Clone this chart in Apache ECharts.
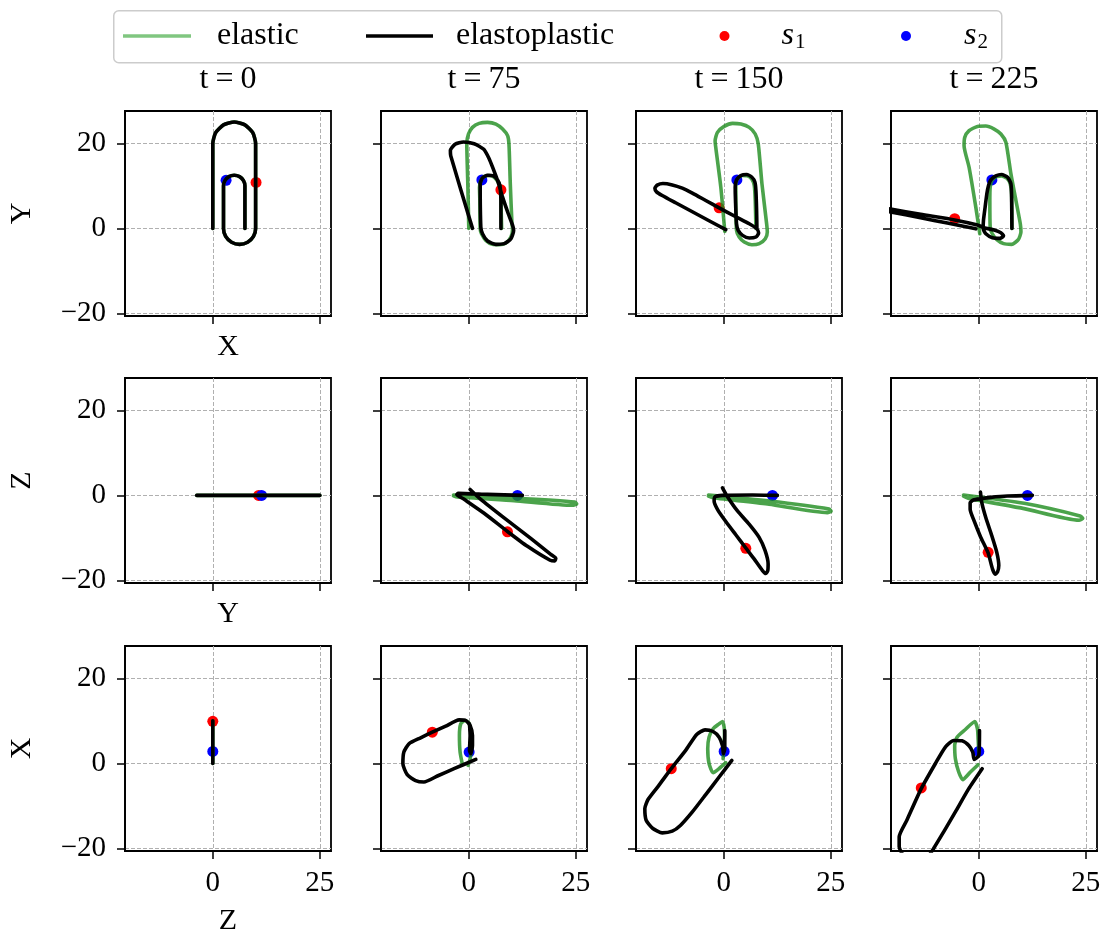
<!DOCTYPE html>
<html><head><meta charset="utf-8">
<script src="https://cdn.jsdelivr.net/npm/echarts@6/dist/echarts.min.js"></script>
<style>html,body{margin:0;padding:0;background:#fff}#c{width:1106px;height:938px}</style>
</head><body><div id="c"></div>
<script>
// ---------------- DATA ----------------
const times = ['0', '75', '150', '225'];
const rowAxes = [['X', 'Y'], ['Y', 'Z'], ['Z', 'X']];   // [horizontal, vertical] per row
const xTicks = [0, 25];
const yTicks = [-20, 0, 20];

// XY projection
const xy_t0 = [[0,0],[0,20],[0.67,22.5],[2.5,24.33],[5,25],[7.5,24.33],[9.33,22.5],[10,20],[10,0],[9.5,-1.88],[8.13,-3.25],[6.25,-3.75],[4.38,-3.25],[3,-1.88],[2.5,0],[2.5,10],[2.83,11.25],[3.75,12.17],[5,12.5],[6.25,12.17],[7.17,11.25],[7.5,10],[7.5,0]];
const xy_t75_elastic = [[0,0],[-0.23,10.47],[-0.47,20],[-0.08,22.19],[0.86,23.75],[2.42,24.69],[4.38,24.92],[6.33,24.53],[7.89,23.36],[9.06,21.8],[9.38,19.84],[9.69,10.47],[10.08,1.09],[10.23,-0.08],[9.84,-2.03],[8.67,-3.44],[7.11,-3.83],[5.55,-3.75],[3.98,-2.81],[2.97,-1.25],[2.66,-0.08],[2.58,6.56],[2.5,9.69],[2.81,11.25],[3.59,12.19],[4.77,12.42],[5.94,12.03],[6.88,10.86],[7.34,9.69],[7.5,6.56],[7.66,0]];
const xy_t75_plastic = [[0.86,0],[-4.22,17.1],[-4.3,18.3],[-3.2,19.8],[-1.25,20.3],[1.25,19.9],[3.5,18.6],[4.7,16.5],[5.55,14.4],[6.72,11.25],[7.89,7.34],[9.22,3.44],[10.23,0.7],[10.47,-0.47],[9.84,-2.42],[8.28,-3.59],[6.33,-3.75],[4.38,-2.97],[3.2,-1.25],[2.81,0.31],[2.66,10.47],[3.2,11.88],[4.38,12.5],[5.78,12.34],[6.72,11.4],[7.27,10.08],[7.5,6.56],[7.5,0]];
const xy_t150_elastic = [[0.23,-0.7],[-0.7,9.69],[-1.88,19.06],[-2.03,20.63],[-1.48,22.58],[0.08,23.98],[2.03,24.69],[3.98,24.53],[5.94,23.75],[7.34,22.19],[8.05,19.84],[8.91,10.47],[10.0,1.09],[10.16,-0.86],[9.69,-2.42],[8.28,-3.59],[6.56,-3.83],[4.77,-3.2],[3.59,-2.03],[2.97,-0.47],[2.81,6.56],[2.81,10.47],[3.2,11.64],[4.22,12.42],[5.55,12.34],[6.56,11.56],[7.11,10.08],[7.34,6.56],[7.5,0]];
const xy_t150_plastic = [[0.47,-0.31],[-3.44,1.8],[-7.34,3.91],[-11.25,6.02],[-14.38,7.73],[-15.7,8.59],[-16.09,9.45],[-15.55,10.16],[-14.22,10.55],[-12.03,10.23],[-9.69,9.45],[-7.34,8.28],[-4.22,6.56],[-1.09,4.84],[2.81,2.73],[5.94,1.09],[7.73,-0.08],[8.13,-1.09],[7.5,-2.03],[5.94,-2.27],[4.38,-1.64],[3.36,-0.47],[2.97,1.09],[2.73,6.56],[2.66,9.69],[2.97,11.41],[3.98,12.42],[5.31,12.66],[6.56,12.03],[7.27,10.86],[7.5,8.91],[7.66,4.22],[7.73,0.16]];
const xy_t225_elastic = [[0.23,-1.25],[-0.7,5.0],[-2.27,14.38],[-3.44,19.45],[-3.28,21.41],[-2.27,22.97],[-0.31,23.98],[1.64,24.06],[3.59,23.36],[5.16,22.19],[6.33,20.23],[7.5,12.81],[8.67,6.56],[9.69,1.09],[9.84,-0.86],[9.22,-2.66],[7.66,-3.75],[5.78,-3.59],[4.22,-2.66],[3.05,-1.09],[2.66,0.31],[2.58,6.56],[2.66,9.69],[3.05,11.25],[4.14,12.19],[5.31,12.34],[6.56,11.8],[7.34,10.47],[7.66,8.13],[7.73,0]];
const xy_t225_plastic = [[-0.7,-0.1],[-7.34,1.25],[-13.6,2.5],[-20.6,3.85],[-24.5,4.5],[-25.5,4.85],[-24.5,5.2],[-20.6,4.55],[-13.6,3.3],[-5.63,1.98],[-0.31,0.78],[1.25,0.16],[3.59,-0.39],[5.16,-1.02],[5.78,-1.72],[5.0,-2.34],[3.2,-2.19],[1.64,-1.25],[1.02,-0.08],[1.09,1.88],[1.48,5.0],[1.88,8.13],[2.27,10.08],[2.81,11.41],[3.98,12.34],[5.31,12.66],[6.72,12.03],[7.5,10.47],[7.66,7.34],[7.73,0]];

// YZ projection
const yz_t0 = [[-3.75,0],[25,0]];
const yz_t75_elastic = [[-3.58,0.08],[10.58,-0.62],[24.75,-1.56],[25.2,-2.02],[24.2,-2.33],[10.58,-1.25],[-2.65,-0.39],[-3.58,-0.08]];
const yz_t75_plastic = [[0.31,1.4],[2.8,-0.93],[8.25,-5.29],[14.47,-10.12],[19.14,-13.85],[20.31,-14.79],[20.08,-15.41],[18.99,-15.25],[13.7,-11.98],[9.03,-8.48],[3.58,-4.2],[-1.09,-0.93],[-2.8,0.23],[-2.49,0.47],[4.36,0.23],[12.53,0]];
const yz_t150_elastic = [[-3.58,0.08],[10.58,-1.32],[24.59,-3.19],[25.06,-3.74],[24.2,-4.05],[10.58,-2.1],[-2.49,-0.54],[-3.58,-0.16]];
const yz_t150_plastic = [[-0.31,1.79],[0.86,-0.31],[3.19,-3.66],[5.91,-6.77],[8.25,-9.88],[9.65,-13.0],[10.35,-16.11],[10.27,-17.67],[9.81,-18.37],[9.03,-17.67],[7.08,-14.94],[5.14,-12.37],[2.8,-9.26],[0.47,-6.15],[-1.48,-3.27],[-2.26,-1.32],[-2.02,-0.31],[-0.31,0],[6.69,0.08],[12.53,0]];
const yz_t225_elastic = [[-3.58,0.08],[10.58,-1.87],[23.66,-4.82],[24.28,-5.37],[23.42,-5.84],[10.58,-3.11],[-2.26,-0.7],[-3.58,-0.16]];
const yz_t225_plastic = [[0.39,0.78],[0.7,-1.71],[1.63,-5.21],[3.04,-9.49],[4.2,-13.39],[4.67,-16.5],[4.36,-18.05],[3.81,-18.52],[3.19,-17.28],[2.18,-13.54],[0.47,-9.88],[-1.09,-5.99],[-2.02,-3.27],[-2.02,-1.71],[-1.25,-1.09],[0.47,-0.78],[2.8,-0.47],[6.69,-0.16],[12.53,0]];

// ZX projection
const zx_t0 = [[0,0],[0,10]];
const zx_t75_elastic = [[-1.48,-0.31],[-2.03,2.66],[-2.19,6.56],[-1.88,9.3],[-0.94,10.08],[0,9.53],[0.47,7.34],[0.63,4.22],[0.31,1.09],[-0.16,-0.47]];
const zx_t75_plastic = [[1.64,0.94],[-3.44,-1.25],[-7.34,-2.97],[-10.47,-4.38],[-12.42,-4.06],[-14.38,-2.66],[-15.39,-0.08],[-15.16,2.66],[-13.98,4.61],[-11.25,6.02],[-8.52,7.34],[-5.39,8.75],[-2.27,10.23],[-0.7,10.08],[0.31,8.91],[0.86,6.56],[0.86,4.22],[0.47,2.27],[0.16,3.05],[0.31,6.56],[0.16,9.3]];
const zx_t150_elastic = [[0.47,0.16],[-0.94,-1.09],[-2.5,-2.19],[-3.44,-0.08],[-3.75,3.44],[-3.44,6.17],[-2.5,8.13],[-1.09,9.3],[-0.31,9.84],[0.08,8.52],[0.16,6.56],[0,3.44],[-0.16,1.09]];
const zx_t150_plastic = [[1.88,0.7],[-1.09,-3.2],[-4.22,-7.34],[-7.34,-11.41],[-10.08,-14.53],[-12.03,-15.94],[-14.38,-16.33],[-16.56,-15.31],[-18.13,-13.36],[-18.44,-10.63],[-17.66,-8.44],[-15.16,-5.16],[-12.27,-1.25],[-8.91,3.05],[-6.33,6.8],[-4.38,7.89],[-2.5,7.5],[-1.09,6.17],[-0.31,4.22],[-0.08,2.27],[0.23,3.44],[0.23,7.73]];
const zx_t225_elastic = [[-0.16,-0.31],[-1.95,-2.03],[-3.75,-3.83],[-4.69,-2.03],[-5.47,1.09],[-5.63,4.22],[-5.08,6.17],[-3.13,7.97],[-0.94,9.84],[-0.31,8.13],[-0.16,5.78],[0,2.66]];
const zx_t225_plastic = [[0.78,-1.25],[-2.34,-5.94],[-5.47,-11.41],[-8.2,-16.09],[-10.55,-20.0],[-12.11,-22.19],[-14.84,-23.13],[-17.19,-22.19],[-18.59,-19.61],[-18.59,-17.27],[-16.8,-13.36],[-13.44,-5.94],[-10.16,-0.08],[-7.81,3.83],[-5.86,5.39],[-3.91,5.31],[-2.34,4.22],[-1.41,2.66],[-1.09,0.94],[0,1.88],[0.16,7.73]];

// tracked points s1 (red) and s2 (blue), one per time step
const s1_xy = [[10.1,10.8],[7.5,9.06],[-1.09,4.84],[-5.63,2.27]];
const s2_xy = [[3.1,11.3],[3.05,11.4],[3.05,11.4],[3.05,11.4]];
const s1_yz = [[10.7,0],[9.03,-8.56],[5.14,-12.45],[2.18,-13.39]];
const s2_yz = [[11.4,0],[11.36,0],[11.36,0],[11.36,0]];
const s1_zx = [[0,9.9],[-8.52,7.34],[-12.27,-1.25],[-13.44,-5.78]];
const s2_zx = [[0,2.8],[0.08,2.66],[0.08,2.81],[0,2.81]];

const elasticData = [
  [xy_t0, xy_t75_elastic, xy_t150_elastic, xy_t225_elastic],
  [yz_t0, yz_t75_elastic, yz_t150_elastic, yz_t225_elastic],
  [zx_t0, zx_t75_elastic, zx_t150_elastic, zx_t225_elastic]
];
const plasticData = [
  [xy_t0, xy_t75_plastic, xy_t150_plastic, xy_t225_plastic],
  [yz_t0, yz_t75_plastic, yz_t150_plastic, yz_t225_plastic],
  [zx_t0, zx_t75_plastic, zx_t150_plastic, zx_t225_plastic]
];
const s1Data = [s1_xy, s1_yz, s1_zx];
const s2Data = [s2_xy, s2_yz, s2_zx];

// ---------------- LAYOUT / STYLE ----------------
const FONT = '"Liberation Serif", "DejaVu Serif", serif';
const gridLefts = [125, 381, 636, 891];
const gridTops = [111, 378, 646];
const GW = 206, GH = 205;
const GREEN = '#1e8c1e';
const fmt = v => (v < 0 ? '\u2212' + Math.abs(v) : String(v));
const xNameGaps = [16, 16, 55];

const grid = [], xAxis = [], yAxis = [], series = [];
for (let r = 0; r < 3; r++) {
  for (let c = 0; c < 4; c++) {
    const i = r * 4 + c;
    grid.push({left: gridLefts[c], top: gridTops[r], width: GW, height: GH, show: true,
      borderColor: '#000', borderWidth: 1.8, backgroundColor: '#fff', containLabel: false});
    xAxis.push({type: 'value', gridIndex: i, min: -20.5, max: 27.6, position: 'bottom',
      axisLine: {show: true, onZero: false, lineStyle: {color: '#000', width: 1.8}},
      axisTick: {show: true, inside: false, length: 8, customValues: xTicks, lineStyle: {color: '#000', width: 1.5}},
      axisLabel: {show: r === 2, customValues: xTicks, formatter: fmt, fontFamily: FONT, fontSize: 29, color: '#000', margin: 18},
      splitLine: {show: true, lineStyle: {color: '#b0b0b0', width: 1, type: [4, 2]}},
      name: c === 0 ? rowAxes[r][0] : '', nameLocation: 'middle', nameGap: xNameGaps[r],
      nameTextStyle: {fontFamily: FONT, fontSize: 30, color: '#000'}
    });
    yAxis.push({type: 'value', gridIndex: i, min: -20.6, max: 27.6, position: 'left',
      axisLine: {show: true, onZero: false, lineStyle: {color: '#000', width: 1.8}},
      axisTick: {show: true, inside: false, length: 8, customValues: yTicks, lineStyle: {color: '#000', width: 1.5}},
      axisLabel: {show: c === 0, customValues: yTicks, formatter: fmt, fontFamily: FONT, fontSize: 29, color: '#000', margin: 19},
      splitLine: {show: true, lineStyle: {color: '#b0b0b0', width: 1, type: [4, 2]}},
      name: c === 0 ? rowAxes[r][1] : '', nameLocation: 'middle', nameGap: 88,
      nameTextStyle: {fontFamily: FONT, fontSize: 30, color: '#000'}
    });
    series.push({type: 'scatter', name: 's1', xAxisIndex: i, yAxisIndex: i, data: [s1Data[r][c]],
      symbolSize: 11, itemStyle: {color: '#ff0000', opacity: 1}, z: 2, silent: true});
    series.push({type: 'scatter', name: 's2', xAxisIndex: i, yAxisIndex: i, data: [s2Data[r][c]],
      symbolSize: 11, itemStyle: {color: '#0000ff', opacity: 1}, z: 2, silent: true});
    series.push({type: 'line', name: 'elastic', xAxisIndex: i, yAxisIndex: i, data: elasticData[r][c],
      symbol: 'none', smooth: 0.2, clip: true, itemStyle: {color: GREEN},
      lineStyle: {color: GREEN, width: 3.6, opacity: 0.8, cap: 'round', join: 'round'}, z: 3, silent: true});
    series.push({type: 'line', name: 'elastoplastic', xAxisIndex: i, yAxisIndex: i, data: plasticData[r][c],
      symbol: 'none', smooth: 0.2, clip: true, itemStyle: {color: '#000'},
      lineStyle: {color: '#000', width: 3.6, cap: 'round', join: 'round'}, z: 4, silent: true});
  }
}

const tStyle = {fontFamily: FONT, fontSize: 32, fontWeight: 'normal', color: '#000'};
const titles = times.map((t, c) => ({
  text: '{n|t}{e|=}{n|' + t + '}', left: gridLefts[c] + GW / 2, top: 64, textAlign: 'center', padding: 0,
  textStyle: Object.assign({rich: {n: tStyle, e: Object.assign({padding: [0, 7, 0, 7]}, tStyle)}}, tStyle)
}));

const legTop = 20;
const legText = {fontFamily: FONT, fontSize: 32, color: '#000'};
const legend = [
  {data: [{name: 'elastic', icon: 'rect', itemStyle: {color: 'rgba(44,160,44,0.6)'}}], left: 123, top: legTop, padding: 0,
   itemWidth: 68, itemHeight: 3.5, selectedMode: false, formatter: n => '{g| }' + n,
   textStyle: Object.assign({rich: {g: {width: 21}}}, legText)},
  {data: [{name: 'elastoplastic', icon: 'rect', itemStyle: {color: '#000'}}], left: 366, top: legTop, padding: 0,
   itemWidth: 67, itemHeight: 3.5, selectedMode: false, formatter: n => '{g| }' + n,
   textStyle: Object.assign({rich: {g: {width: 18}}}, legText)},
  {data: [{name: 's1', icon: 'circle', itemStyle: {color: '#ff0000'}}], left: 719.5, top: legTop, padding: 0,
   itemWidth: 10, itemHeight: 10, selectedMode: false, formatter: () => '{g| }{s|s}{b|1}',
   textStyle: Object.assign({rich: {g: {width: 47}, s: {fontFamily: FONT, fontSize: 32, fontStyle: 'italic'}, b: {fontFamily: FONT, fontSize: 21, padding: [12, 0, 0, 1]}}}, legText)},
  {data: [{name: 's2', icon: 'circle', itemStyle: {color: '#0000ff'}}], left: 901, top: legTop, padding: 0,
   itemWidth: 10, itemHeight: 10, selectedMode: false, formatter: () => '{g| }{s|s}{b|2}',
   textStyle: Object.assign({rich: {g: {width: 48}, s: {fontFamily: FONT, fontSize: 32, fontStyle: 'italic'}, b: {fontFamily: FONT, fontSize: 21, padding: [12, 0, 0, 1]}}}, legText)}
];

const chart = echarts.init(document.getElementById('c'), null, {renderer: 'canvas'});
chart.setOption({
  animation: false,
  backgroundColor: '#fff',
  textStyle: {fontFamily: FONT},
  title: titles,
  legend: legend,
  graphic: [{type: 'rect', left: 113, top: 10, shape: {width: 888, height: 52, r: 5}, z: -10,
    style: {fill: '#fff', stroke: '#cccccc', lineWidth: 1.5}, silent: true}],
  grid: grid, xAxis: xAxis, yAxis: yAxis, series: series
});
</script></body></html>
